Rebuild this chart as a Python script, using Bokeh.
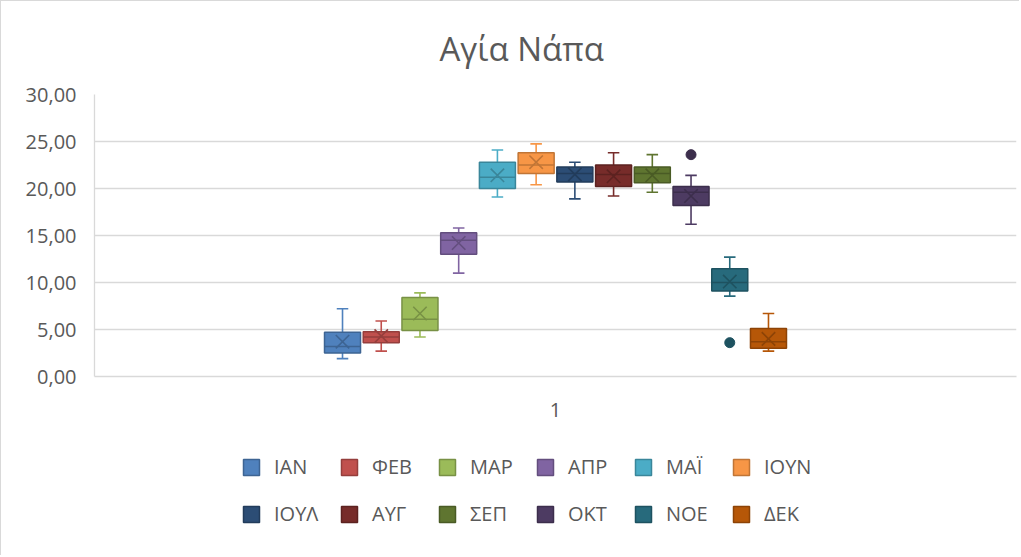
from bokeh.plotting import figure
from bokeh.layouts import column
from bokeh.models import (Range1d, FixedTicker, Legend, LegendItem, Title,
                          ColumnDataSource)
from bokeh.embed import file_html
from bokeh.resources import INLINE

# ---------------- data ----------------
title_text = "Αγία Νάπα"
category_label = "1"
months = ["ΙΑΝ", "ΦΕΒ", "ΜΑΡ", "ΑΠΡ", "ΜΑΪ", "ΙΟΥΝ",
          "ΙΟΥΛ", "ΑΥΓ", "ΣΕΠ", "ΟΚΤ", "ΝΟΕ", "ΔΕΚ"]
whisker_low = [1.9, 2.7, 4.2, 11.0, 19.1, 20.4, 18.9, 19.2, 19.6, 16.2, 8.55, 2.7]
q1 = [2.5, 3.6, 4.9, 13.0, 20.0, 21.6, 20.7, 20.2, 20.6, 18.2, 9.1, 3.0]
median = [3.2, 4.2, 6.1, 14.5, 21.2, 22.5, 21.6, 21.5, 21.6, 19.6, 10.0, 3.7]
q3 = [4.7, 4.75, 8.4, 15.3, 22.8, 23.8, 22.3, 22.5, 22.3, 20.2, 11.45, 5.1]
whisker_high = [7.2, 5.9, 8.9, 15.8, 24.1, 24.75, 22.8, 23.8, 23.6, 21.4, 12.7, 6.7]
mean = [3.7, 4.3, 6.7, 14.2, 21.4, 22.8, 21.5, 21.3, 21.4, 19.2, 10.1, 4.0]
outlier_month = ["ΟΚΤ", "ΝΟΕ"]
outlier_value = [23.6, 3.6]
y_ticks = [0, 5, 10, 15, 20, 25, 30]
y_tick_labels = ["0,00", "5,00", "10,00", "15,00", "20,00", "25,00", "30,00"]

# ---------------- styles ----------------
colors = ["#4F81BD", "#C0504D", "#9BBB59", "#8064A2", "#4BACC6", "#F79646",
          "#2C4D75", "#772C2A", "#5F7530", "#4D3B62", "#276A7C", "#B65708"]
TEXT = "#595959"
GRID = "#d9d9d9"
FONT = "Open Sans"


def darker(h, f=0.78):
    h = h.lstrip("#")
    r, g, b = (int(h[i:i + 2], 16) for i in (0, 2, 4))
    return "#%02x%02x%02x" % (int(r * f), int(g * f), int(b * f))


dark = [darker(c) for c in colors]

n = len(months)
step = 0.042              # horizontal pitch of boxes (category width = 1)
box_w = step * 0.93
cap = box_w * 0.16
xs = [(i - (n - 1) / 2) * step for i in range(n)]

src = ColumnDataSource(dict(
    x=xs, xl=[x - cap for x in xs], xr=[x + cap for x in xs],
    bl=[x - box_w / 2 for x in xs], br=[x + box_w / 2 for x in xs],
    low=whisker_low, q1=q1, med=median, q3=q3, high=whisker_high, mean=mean,
    color=colors, dark=dark, name=months,
))

out_idx = [months.index(m) for m in outlier_month]
osrc = ColumnDataSource(dict(
    x=[xs[i] for i in out_idx], y=outlier_value,
    color=[dark[i] for i in out_idx],
))

# ---------------- main chart ----------------
p = figure(width=1019, height=435, output_backend="svg", toolbar_location=None,
           x_range=Range1d(-0.5, 0.5), y_range=Range1d(0, 30),
           min_border_left=93, min_border_right=4, min_border_top=93,
           min_border_bottom=60)
p.styles = {"border-top": "1px solid #d9d9d9", "border-left": "1px solid #d9d9d9"}
p.outline_line_color = None
p.background_fill_color = "white"
p.xgrid.visible = False
p.ygrid.grid_line_color = GRID
p.ygrid.grid_line_width = 1.3

p.yaxis.ticker = FixedTicker(ticks=y_ticks)
p.yaxis.major_label_overrides = {t: l for t, l in zip(y_ticks, y_tick_labels)}
p.xaxis.ticker = FixedTicker(ticks=[0])
p.xaxis.major_label_overrides = {0: category_label}
for ax in (p.xaxis[0], p.yaxis[0]):
    ax.axis_line_color = GRID
    ax.axis_line_width = 1.3
    ax.major_tick_line_color = None
    ax.minor_tick_line_color = None
    ax.major_tick_in = 0
    ax.major_tick_out = 0
    ax.major_label_text_font = FONT
    ax.major_label_text_font_size = "20px"
    ax.major_label_text_color = TEXT
p.yaxis.major_label_standoff = 18
p.xaxis.major_label_standoff = 26

# whiskers
p.segment(x0="x", y0="q3", x1="x", y1="high", source=src, line_color="color", line_width=1.6)
p.segment(x0="x", y0="low", x1="x", y1="q1", source=src, line_color="color", line_width=1.6)
p.segment(x0="xl", y0="high", x1="xr", y1="high", source=src, line_color="color", line_width=1.6)
p.segment(x0="xl", y0="low", x1="xr", y1="low", source=src, line_color="color", line_width=1.6)
# boxes
p.vbar(x="x", bottom="q1", top="q3", width=box_w, source=src,
       fill_color="color", line_color="dark", line_width=1.5)
# median
p.segment(x0="bl", y0="med", x1="br", y1="med", source=src, line_color="dark", line_width=1.5)
# mean marker
p.scatter(x="x", y="mean", source=src, marker="x", size=19,
          line_color="dark", line_width=1.6)
# outliers
p.scatter(x="x", y="y", source=osrc, marker="circle", size=10,
          fill_color="color", line_color="color")

# title
p.add_layout(Title(text=title_text, align="left", offset=345, vertical_align="top",
                   standoff=44, text_font=FONT, text_font_size="33px",
                   text_font_style="normal", text_color=TEXT), "above")

# ---------------- legend strip ----------------
q = figure(width=1019, height=120, output_backend="svg", toolbar_location=None,
           x_range=Range1d(-0.5, 0.5), y_range=Range1d(0, 1),
           min_border=0, min_border_left=0, min_border_right=0,
           min_border_top=0, min_border_bottom=0)
q.styles = {"border-left": "1px solid #d9d9d9"}
q.outline_line_color = None
q.xaxis.visible = False
q.yaxis.visible = False
q.xgrid.visible = False
q.ygrid.visible = False
# legend keys only: same colours, no drawn extent in this strip
key_src = ColumnDataSource(dict(x=xs, bottom=[float("nan")] * n, top=[float("nan")] * n,
                                color=colors, dark=dark))
keys = q.vbar(x="x", bottom="bottom", top="top", width=box_w, source=key_src,
              fill_color="color", line_color="dark", line_width=1.5)

items = [LegendItem(label=m, renderers=[keys], index=i) for i, m in enumerate(months)]
legend = Legend(items=items, orientation="horizontal", ncols=6,
                location=(147, 28), padding=0, margin=0,
                border_line_color=None, background_fill_alpha=0,
                glyph_width=20, glyph_height=20, label_standoff=13,
                label_height=20, label_width=45, spacing=20,
                label_text_font=FONT, label_text_font_size="20px",
                label_text_color=TEXT)
q.add_layout(legend, "center")

open("out.html", "w").write(file_html(column(p, q), INLINE))
